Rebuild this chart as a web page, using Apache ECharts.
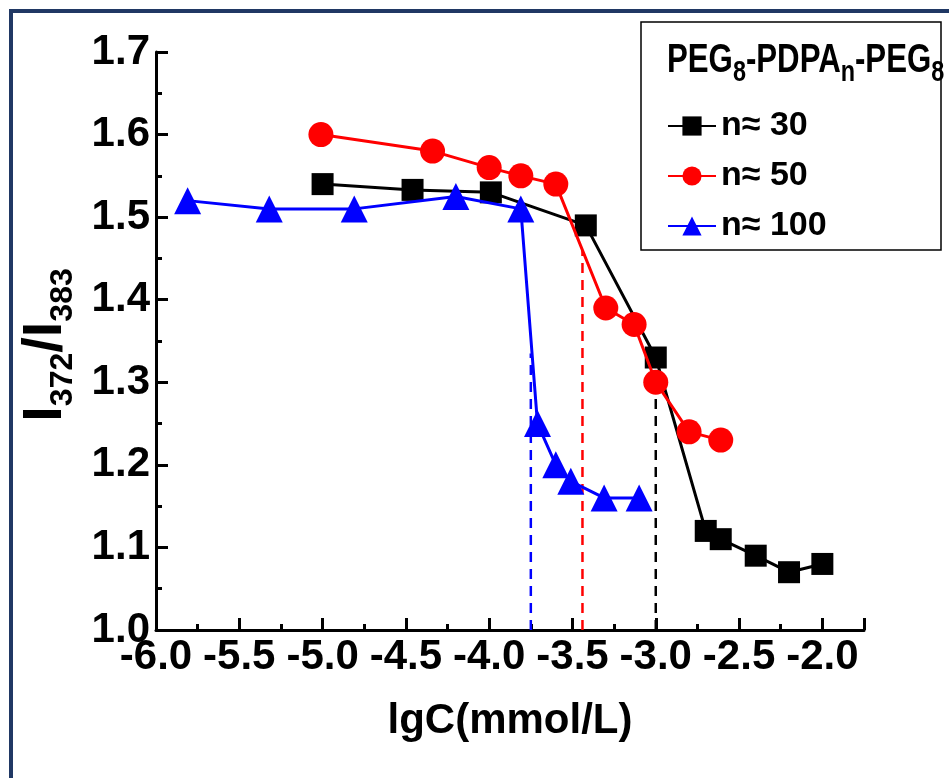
<!DOCTYPE html>
<html><head><meta charset="utf-8">
<script src="https://cdn.jsdelivr.net/npm/echarts@6/dist/echarts.min.js"></script>
<style>html,body{margin:0;padding:0;background:#fff}#c{width:949px;height:778px}</style>
</head><body><div id="c"></div>
<script>
const n30X = [-5.0, -4.46, -3.99, -3.42, -3.0, -2.70, -2.61, -2.40, -2.20, -2.0];
const n30Y = [1.54, 1.533, 1.53, 1.49, 1.33, 1.12, 1.11, 1.09, 1.07, 1.08];
const n50X = [-5.01, -4.34, -4.0, -3.81, -3.60, -3.30, -3.13, -3.0, -2.80, -2.61];
const n50Y = [1.60, 1.58, 1.56, 1.55, 1.54, 1.39, 1.37, 1.30, 1.24, 1.23];
const n100X = [-5.81, -5.32, -4.81, -4.20, -3.81, -3.71, -3.60, -3.51, -3.31, -3.10];
const n100Y = [1.52, 1.51, 1.51, 1.525, 1.51, 1.25, 1.20, 1.18, 1.16, 1.16];
const cmcX = [-3.75, -3.44, -3.0];
const cmcTop = [1.335, 1.46, 1.30];
const seriesNames = ['n\u2248 30', 'n\u2248 50', 'n\u2248 100'];
const colors = ['#000000', '#ff0000', '#0000ff'];
const xTitle = 'lgC(mmol/L)';

const FONT = "'Liberation Sans', Arial, sans-serif";
const zip = (xs, ys) => xs.map((x, i) => [x, ys[i]]);

const chart = echarts.init(document.getElementById('c'), null, {renderer: 'canvas'});
const dashSeries = cmcX.map((x, i) => ({
  type: 'line', name: 'cmc' + i, data: [[x, 1.0], [x, cmcTop[i]]],
  symbol: 'none', silent: true, z: 1,
  lineStyle: {color: colors[[2,1,0][i]], width: 2.5, type: [10, 7]}
}));
const option = {
  animation: false,
  backgroundColor: '#fff',
  grid: {left: 156, top: 52, right: 85, bottom: 148, containLabel: false},
  xAxis: {
    type: 'value', min: -6, max: -1.75, interval: 0.5,
    axisLine: {lineStyle: {color: '#000', width: 3}},
    axisTick: {inside: true, length: 12, lineStyle: {color: '#000', width: 3}},
    minorTick: {show: true, splitNumber: 2, length: 6, lineStyle: {color: '#000', width: 3}},
    splitLine: {show: false},
    axisLabel: {showMaxLabel: false, color: '#000', fontFamily: FONT, fontWeight: 'bold', fontSize: 42, margin: 6,
      formatter: v => v.toFixed(1)},
    name: xTitle, nameLocation: 'middle', nameGap: 70,
    nameTextStyle: {color: '#000', fontFamily: FONT, fontWeight: 'bold', fontSize: 42}
  },
  yAxis: {
    type: 'value', min: 1.0, max: 1.7, interval: 0.1,
    axisLine: {show: true, lineStyle: {color: '#000', width: 3}},
    axisTick: {show: true, inside: true, length: 12, lineStyle: {color: '#000', width: 3}},
    minorTick: {show: true, splitNumber: 2, length: 6, lineStyle: {color: '#000', width: 3}},
    splitLine: {show: false},
    axisLabel: {color: '#000', fontFamily: FONT, fontWeight: 'bold', fontSize: 42, margin: 6,
      formatter: v => v.toFixed(1)}
  },
  legend: {
    data: seriesNames, orient: 'vertical', left: 662, top: 104,
    itemWidth: 48, itemHeight: 24, itemGap: 16,
    textStyle: {color: '#000', fontFamily: FONT, fontWeight: 'bold', fontSize: 34}
  },
  graphic: [
    {type: 'rect', shape: {x: 11, y: 11, width: 1200, height: 1200}, style: {fill: null, stroke: '#203864', lineWidth: 4}, silent: true},
    {type: 'rect', shape: {x: 641, y: 22, width: 300, height: 228}, style: {fill: '#fff', stroke: '#000', lineWidth: 1.5}, z: -1},
    {type: 'text', x: 667, y: 34, scaleX: 0.78, style: {
      text: 'PEG{s|8}-PDPA{s|n}-PEG{s|8}', fill: '#000', font: "bold 40px 'Liberation Sans', sans-serif",
      rich: {s: {fontSize: 30, fontWeight: 'bold', fontFamily: "'Liberation Sans', sans-serif", padding: [24, 0, 0, 0]}}
    }},
    {type: 'text', x: 46, y: 345, rotation: Math.PI / 2, style: {
      text: 'I{s|372}/I{s|383}', fill: '#000', font: "bold 56px 'Liberation Sans', sans-serif",
      align: 'center', verticalAlign: 'middle',
      rich: {s: {fontSize: 32, fontWeight: 'bold', fontFamily: "'Liberation Sans', sans-serif", padding: [34, 0, 0, 0]}}
    }}
  ],
  series: [
    {type: 'line', name: seriesNames[0], data: zip(n30X, n30Y), symbol: 'rect', symbolSize: 22,
      itemStyle: {color: colors[0]}, lineStyle: {color: colors[0], width: 3}, z: 3},
    {type: 'line', name: seriesNames[1], data: zip(n50X, n50Y), symbol: 'circle', symbolSize: 25,
      itemStyle: {color: colors[1]}, lineStyle: {color: colors[1], width: 3}, z: 4},
    {type: 'line', name: seriesNames[2], data: zip(n100X, n100Y), symbol: 'triangle', symbolSize: 27,
      itemStyle: {color: colors[2]}, lineStyle: {color: colors[2], width: 3}, z: 5},
    ...dashSeries
  ]
};
chart.setOption(option);
</script></body></html>
